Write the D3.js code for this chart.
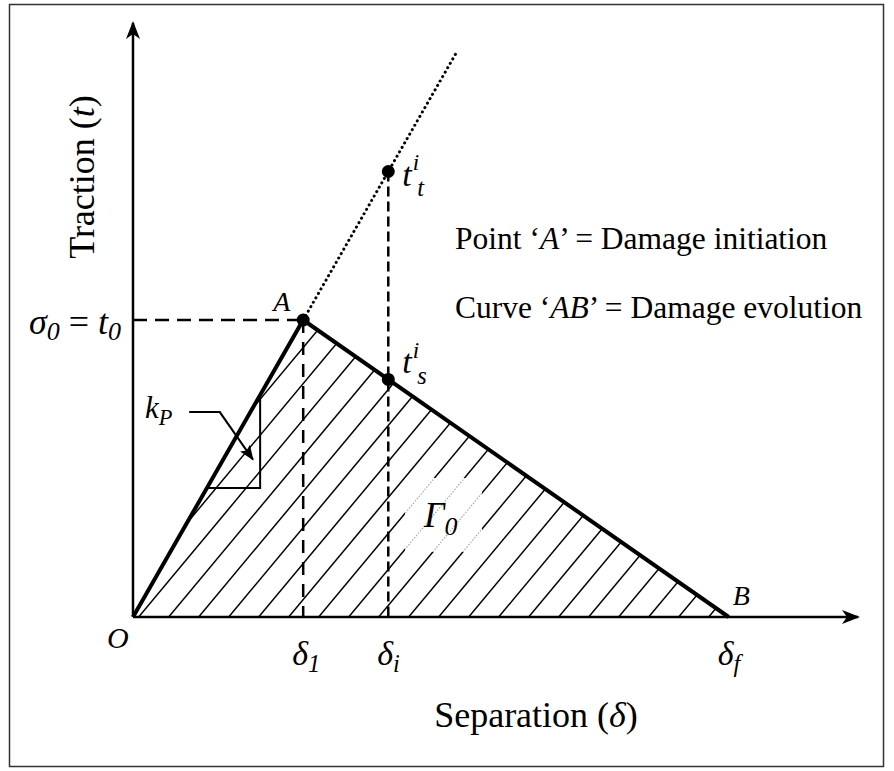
<!DOCTYPE html>
<html>
<head>
<meta charset="utf-8">
<script src="https://cdn.jsdelivr.net/npm/d3@7"></script>
</head>
<body style="margin:0;background:#fff">
<div id="chart"></div>
<script>
const width = 894, height = 771;
const serif = '"Liberation Serif"';

// bilinear traction-separation law: O, A, B  (separation delta, traction t)
const lawDelta = [0, 1, 3.5];
const lawTraction = [0, 1, 0];
// dotted elastic extension beyond A
const extDelta = [1, 1.9];
const extTraction = [1, 1.9];
// trial state at delta_i : t_t^i (elastic trial) and t_s^i (softened)
const trialDelta = 1.5;
const trialTraction = [1.5, 0.8];
// separation tick marks
const tickDelta = [1, 1.5, 3.5];
const tickSub = ["1", "i", "f"];
// stiffness triangle and its pointer
const kTriDelta = [0.434, 0.747, 0.747];
const kTriTraction = [0.434, 0.434, 0.74];
const kArrowDelta = [0.33, 0.51, 0.705];
const kArrowTraction = [0.69, 0.69, 0.53];

const x = d3.scaleLinear().domain([0, 4.26]).range([133, 858]);
const y = d3.scaleLinear().domain([0, 2]).range([617, 23]);

const svg = d3.select("#chart").append("svg")
  .attr("width", width)
  .attr("height", height)
  .style("display", "block");

const defs = svg.append("defs");
defs.append("marker")
  .attr("id", "axis-head")
  .attr("markerUnits", "userSpaceOnUse")
  .attr("viewBox", "-18 -8 20 16")
  .attr("markerWidth", 20).attr("markerHeight", 16)
  .attr("refX", 0).attr("refY", 0)
  .attr("orient", "auto")
  .append("path")
  .attr("d", "M2,0 L-16,-7 L-11,0 L-16,7 Z")
  .attr("fill", "#000");
defs.append("marker")
  .attr("id", "k-head")
  .attr("markerUnits", "userSpaceOnUse")
  .attr("viewBox", "-16 -7 18 14")
  .attr("markerWidth", 18).attr("markerHeight", 14)
  .attr("refX", 0).attr("refY", 0)
  .attr("orient", "auto")
  .append("path")
  .attr("d", "M1,0 L-14,-6 L-11,0 L-14,6 Z")
  .attr("fill", "#000");

svg.append("rect")
  .attr("x", 9.5).attr("y", 4.5)
  .attr("width", 874).attr("height", 762)
  .attr("fill", "none")
  .attr("stroke", "#333")
  .attr("stroke-width", 1.5);

// ---- hatched area under the law (fracture energy)
const law = lawDelta.map((d, i) => [x(d), y(lawTraction[i])]);
defs.append("clipPath").attr("id", "law-clip")
  .append("path").attr("d", d3.line()(law) + "Z");

const gamma = { x: 405, y: 478, w: 77, h: 74 };
const mask = defs.append("mask").attr("id", "gamma-mask");
mask.append("rect").attr("width", width).attr("height", height).attr("fill", "#fff");
mask.append("rect")
  .attr("x", gamma.x).attr("y", gamma.y)
  .attr("width", gamma.w).attr("height", gamma.h)
  .attr("fill", "#000");
defs.append("clipPath").attr("id", "gamma-clip")
  .append("rect")
  .attr("x", gamma.x).attr("y", gamma.y)
  .attr("width", gamma.w).attr("height", gamma.h);

const slope = 1.2, spacing = 30, base = y(0);
const hatchStarts = d3.range(-14, 22).map(k => x(0) + 4 + k * spacing);
const hatchSeg = x0 => `M${x0},${base + 2}L${x0 + 700},${base + 2 - 700 * slope}`;

const hatch = svg.append("g").attr("clip-path", "url(#law-clip)");
hatch.append("g").attr("mask", "url(#gamma-mask)")
  .selectAll("path").data(hatchStarts).join("path")
  .attr("d", hatchSeg)
  .attr("stroke", "#000").attr("stroke-width", 1.5);
hatch.append("g").attr("clip-path", "url(#gamma-clip)")
  .selectAll("path").data(hatchStarts).join("path")
  .attr("d", hatchSeg)
  .attr("stroke", "#aaa").attr("stroke-width", 1.2)
  .attr("stroke-dasharray", "1.5,1.5");

// ---- dashed guides
const guides = svg.append("g").attr("fill", "none").attr("stroke", "#000").attr("stroke-width", 2.5);
guides.append("line")
  .attr("x1", x(0)).attr("x2", x(lawDelta[1]))
  .attr("y1", y(lawTraction[1])).attr("y2", y(lawTraction[1]))
  .attr("stroke-dasharray", "14,8");
guides.append("line")
  .attr("x1", x(lawDelta[1])).attr("x2", x(lawDelta[1]))
  .attr("y1", y(lawTraction[1])).attr("y2", y(0))
  .attr("stroke-dasharray", "13,9");
guides.append("line")
  .attr("x1", x(trialDelta)).attr("x2", x(trialDelta))
  .attr("y1", y(trialTraction[0])).attr("y2", y(0))
  .attr("stroke-dasharray", "10,5");

// dotted elastic extension
svg.append("path")
  .attr("d", d3.line()(extDelta.map((d, i) => [x(d), y(extTraction[i])])))
  .attr("fill", "none").attr("stroke", "#000")
  .attr("stroke-width", 3)
  .attr("stroke-linecap", "round")
  .attr("stroke-dasharray", "0.1,5");

// ---- axes
svg.append("line")
  .attr("x1", x(0)).attr("y1", y(0))
  .attr("x2", x(0)).attr("y2", y(2))
  .attr("stroke", "#000").attr("stroke-width", 2.5)
  .attr("marker-end", "url(#axis-head)");
svg.append("line")
  .attr("x1", x(0)).attr("y1", y(0))
  .attr("x2", x(4.26)).attr("y2", y(0))
  .attr("stroke", "#000").attr("stroke-width", 2.5)
  .attr("marker-end", "url(#axis-head)");

// ---- the law itself
svg.append("path")
  .attr("d", d3.line()(law))
  .attr("fill", "none").attr("stroke", "#000")
  .attr("stroke-width", 4).attr("stroke-linejoin", "miter");

// ---- stiffness triangle + pointer
svg.append("path")
  .attr("d", d3.line()(kTriDelta.map((d, i) => [x(d), y(kTriTraction[i])])))
  .attr("fill", "none").attr("stroke", "#000").attr("stroke-width", 2);
svg.append("path")
  .attr("d", d3.line()(kArrowDelta.map((d, i) => [x(d), y(kArrowTraction[i])])))
  .attr("fill", "none").attr("stroke", "#000").attr("stroke-width", 2)
  .attr("marker-end", "url(#k-head)");

// ---- points
const dots = [[lawDelta[1], lawTraction[1]], [trialDelta, trialTraction[0]], [trialDelta, trialTraction[1]]];
svg.selectAll("circle.pt").data(dots).join("circle")
  .attr("class", "pt")
  .attr("cx", d => x(d[0])).attr("cy", d => y(d[1]))
  .attr("r", 6.5).attr("fill", "#000");

// ---- labels
const labels = svg.append("g").attr("fill", "#000");

function mathLabel(px, py, main, sub, sup, size) {
  const t = labels.append("text")
    .attr("x", px).attr("y", py)
    .style("font-size", size + "px")
    .style("font-style", "italic");
  t.append("tspan").text(main);
  if (sup) {
    t.append("tspan").style("font-size", size * 0.68 + "px").attr("dx", 1).attr("dy", -size * 0.45).text(sup);
    t.append("tspan").style("font-size", size * 0.72 + "px").attr("dx", -2).attr("dy", size * 0.75).text(sub);
  } else if (sub) {
    t.append("tspan").style("font-size", size * 0.72 + "px").attr("dy", size * 0.22).text(sub);
  }
  return t;
}

tickDelta.forEach((d, i) => mathLabel(x(d) - 11, 665, "δ", tickSub[i], null, 34));

labels.append("text")
  .attr("x", 107).attr("y", 648)
  .style("font-size", "30px").style("font-style", "italic")
  .text("O");
labels.append("text")
  .attr("x", x(lawDelta[1]) - 30).attr("y", y(lawTraction[1]) - 9)
  .style("font-size", "28px").style("font-style", "italic")
  .text("A");
labels.append("text")
  .attr("x", x(lawDelta[2]) + 4).attr("y", y(0) - 12)
  .style("font-size", "28px").style("font-style", "italic")
  .text("B");

// sigma_0 = t_0
const sig = labels.append("text")
  .attr("x", 29).attr("y", 334)
  .style("font-size", "36px");
sig.append("tspan").style("font-style", "italic").text("σ");
sig.append("tspan").style("font-style", "italic").style("font-size", "26px").attr("dy", 6).text("0");
sig.append("tspan").attr("dy", -6).text(" = ");
sig.append("tspan").style("font-style", "italic").text("t");
sig.append("tspan").style("font-style", "italic").style("font-size", "26px").attr("dy", 6).text("0");

// t_t^i and t_s^i
mathLabel(x(trialDelta) + 14, y(trialTraction[0]) + 14, "t", "t", "i", 34);
mathLabel(x(trialDelta) + 14, y(trialTraction[1]) - 6, "t", "s", "i", 34);

// k_P
mathLabel(145, 418, "k", "P", null, 31);

// Gamma_0
mathLabel(424, 527, "Γ", "0", null, 36);

// legend sentences
const l1 = labels.append("text").attr("x", 455).attr("y", 249).style("font-size", "31.5px");
l1.append("tspan").text("Point \u2018");
l1.append("tspan").style("font-style", "italic").text("A");
l1.append("tspan").text("\u2019 = Damage initiation");
const l2 = labels.append("text").attr("x", 455).attr("y", 318).style("font-size", "31.5px");
l2.append("tspan").text("Curve \u2018");
l2.append("tspan").style("font-style", "italic").text("AB");
l2.append("tspan").text("\u2019 = Damage evolution");

// axis titles
const yt = labels.append("text")
  .attr("transform", "translate(94,177) rotate(-90)")
  .attr("text-anchor", "middle")
  .style("font-size", "36px");
yt.append("tspan").text("Traction (");
yt.append("tspan").style("font-style", "italic").text("t");
yt.append("tspan").text(")");

const xt = labels.append("text")
  .attr("x", 536).attr("y", 727)
  .attr("text-anchor", "middle")
  .style("font-size", "36px");
xt.append("tspan").text("Separation (");
xt.append("tspan").style("font-style", "italic").text("δ");
xt.append("tspan").text(")");

// serif face set on every text node directly
labels.selectAll("text, tspan").style("font-family", serif);
</script>
</body>
</html>
